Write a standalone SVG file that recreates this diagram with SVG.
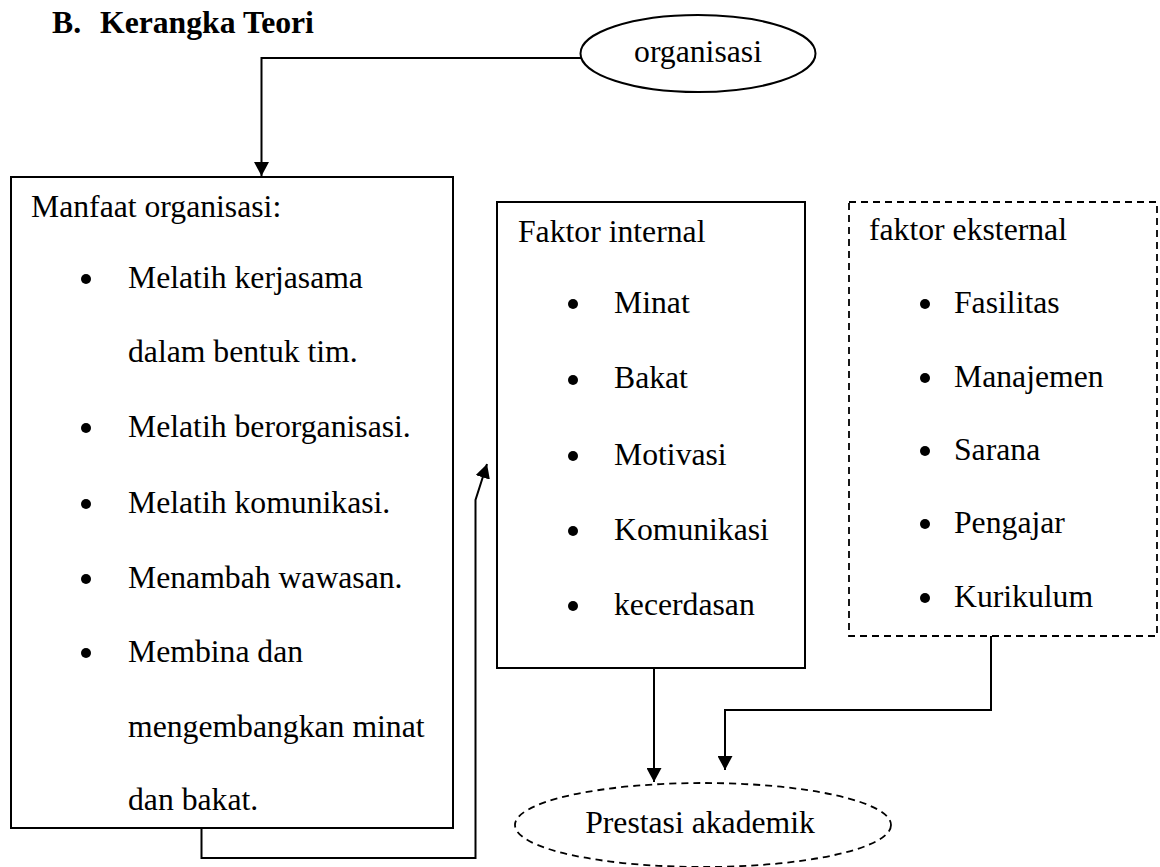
<svg xmlns="http://www.w3.org/2000/svg" width="1160" height="867" viewBox="0 0 1160 867">
<defs>
<style>
text{font-family:"Liberation Serif","Times New Roman",serif;font-size:31.7px;fill:#000}
.title{font-weight:bold}
.box{fill:none;stroke:#000;stroke-width:2}
.dash{fill:none;stroke:#000;stroke-width:1.8;stroke-dasharray:7,5}
.conn{fill:none;stroke:#000;stroke-width:2}
.dot{fill:#000}
</style>
<marker id="ah" viewBox="0 0 14 15" refX="14" refY="7.5" markerWidth="14" markerHeight="15" markerUnits="userSpaceOnUse" orient="auto">
<path d="M0,0 L14,7.5 L0,15 z" fill="#000"/>
</marker>
</defs>
<rect width="1160" height="867" fill="#fff"/>
<g id="title">
<text class="title" x="52" y="33">B.</text>
<text class="title" x="100" y="33">Kerangka Teori</text>
</g>
<g id="organisasi">
<ellipse class="box" cx="698" cy="53.5" rx="117.5" ry="38.5"/>
<text x="698" y="62" text-anchor="middle">organisasi</text>
</g>
<g id="manfaat">
<rect class="box" x="11" y="177" width="442" height="651"/>
<text x="31" y="217">Manfaat organisasi:</text>
<circle class="dot" cx="86" cy="279" r="5"/>
<text x="128" y="288">Melatih kerjasama</text>
<text x="128" y="362">dalam bentuk tim.</text>
<circle class="dot" cx="86" cy="428" r="5"/>
<text x="128" y="437">Melatih berorganisasi.</text>
<circle class="dot" cx="86" cy="504" r="5"/>
<text x="128" y="513">Melatih komunikasi.</text>
<circle class="dot" cx="86" cy="579" r="5"/>
<text x="128" y="588">Menambah wawasan.</text>
<circle class="dot" cx="86" cy="653" r="5"/>
<text x="128" y="662">Membina dan</text>
<text x="128" y="737">mengembangkan minat</text>
<text x="128" y="810">dan bakat.</text>
</g>
<g id="internal">
<rect class="box" x="497" y="202" width="308" height="466"/>
<text x="518" y="242">Faktor internal</text>
<circle class="dot" cx="573" cy="304" r="5"/>
<text x="614" y="313">Minat</text>
<circle class="dot" cx="573" cy="380" r="5"/>
<text x="614" y="388">Bakat</text>
<circle class="dot" cx="573" cy="456" r="5"/>
<text x="614" y="465">Motivasi</text>
<circle class="dot" cx="573" cy="531" r="5"/>
<text x="614" y="540">Komunikasi</text>
<circle class="dot" cx="573" cy="606" r="5"/>
<text x="614" y="615">kecerdasan</text>
</g>
<g id="eksternal">
<rect class="dash" x="849" y="202" width="308" height="434"/>
<text x="869" y="240">faktor eksternal</text>
<circle class="dot" cx="925" cy="304" r="5"/>
<text x="954" y="313">Fasilitas</text>
<circle class="dot" cx="925" cy="378" r="5"/>
<text x="954" y="387">Manajemen</text>
<circle class="dot" cx="925" cy="451" r="5"/>
<text x="954" y="460">Sarana</text>
<circle class="dot" cx="925" cy="524" r="5"/>
<text x="954" y="533">Pengajar</text>
<circle class="dot" cx="925" cy="598" r="5"/>
<text x="954" y="607">Kurikulum</text>
</g>
<g id="prestasi">
<ellipse class="dash" cx="703" cy="825" rx="188" ry="42"/>
<text x="700" y="833" text-anchor="middle">Prestasi akademik</text>
</g>
<g id="connectors">
<path class="conn" d="M581,58 H261.5 V176" marker-end="url(#ah)"/>
<path class="conn" d="M201.5,828 V858 H475.5 V500 L487,464" marker-end="url(#ah)"/>
<path class="conn" d="M654,668 V782" marker-end="url(#ah)"/>
<path class="conn" d="M991,636 V710 H725 V770" marker-end="url(#ah)"/>
</g>
</svg>
